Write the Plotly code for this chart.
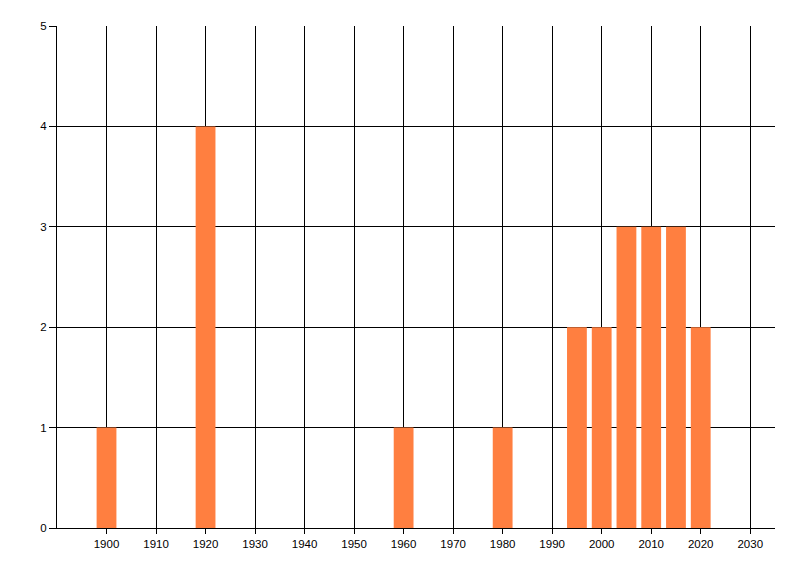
import plotly.graph_objects as go

# Counts per period (bar centred on the year)
years = [1900, 1920, 1960, 1980, 1995, 2000, 2005, 2010, 2015, 2020]
counts = [1, 4, 1, 1, 2, 2, 3, 3, 3, 2]
x_ticks = list(range(1900, 2031, 10))
y_ticks = [0, 1, 2, 3, 4, 5]

bar_color = '#FF7F40'
font = dict(family='Liberation Sans, Arial, sans-serif', size=11.5, color='#000000')

fig = go.Figure()
fig.add_trace(go.Bar(x=years, y=counts, width=4,
                     marker=dict(color=bar_color, line=dict(width=0))))

# page body adds ~8px offset, margins compensate
fig.update_layout(
    width=800, height=576,
    margin=dict(l=49, r=33, t=18, b=56),
    paper_bgcolor='white', plot_bgcolor='white',
    showlegend=False, font=font,
)
fig.update_xaxes(range=[1890, 2035], tickvals=x_ticks,
                 showgrid=True, gridcolor='black', gridwidth=1,
                 showline=True, linecolor='black', linewidth=1,
                 ticks='outside', ticklen=5, tickcolor='black',
                 zeroline=False, tickfont=font)
fig.update_yaxes(range=[0, 5], tickvals=y_ticks,
                 showgrid=True, gridcolor='black', gridwidth=1,
                 showline=True, linecolor='black', linewidth=1,
                 ticks='outside', ticklen=7, tickcolor='black',
                 zeroline=False, tickfont=font)

fig.write_html("out.html")
